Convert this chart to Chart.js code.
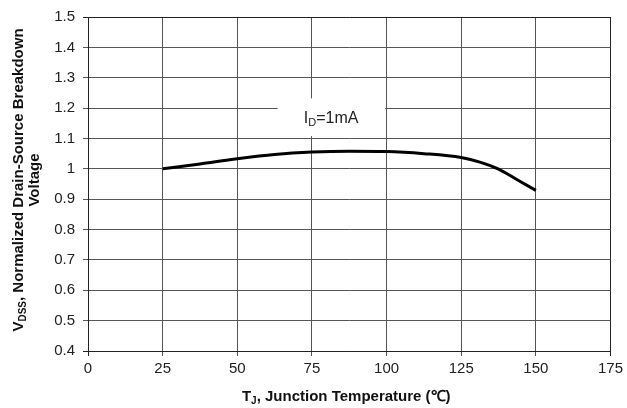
<!DOCTYPE html>
<html>
<head>
<meta charset="utf-8">
<script src="https://cdn.jsdelivr.net/npm/chart.js@4/dist/chart.umd.min.js"></script>
<style>
  html, body { margin: 0; padding: 0; background: #fff; }
  #wrap { width: 627px; height: 408px; }
</style>
</head>
<body>
<div id="wrap"><canvas id="chart" width="627" height="408"></canvas></div>
<script>
// values
const temps = [25, 37.5, 50, 62.5, 75, 87.5, 100, 112.5, 125, 131.25, 137.5, 143.75, 150];
const bvdss = [1.0, 1.016, 1.033, 1.047, 1.055, 1.058, 1.057, 1.050, 1.037, 1.022, 0.999, 0.964, 0.929];
const xTicks = [0, 25, 50, 75, 100, 125, 150, 175];
const yTicks = [0.4, 0.5, 0.6, 0.7, 0.8, 0.9, 1, 1.1, 1.2, 1.3, 1.4, 1.5];
const noteText = { main: 'I', sub: 'D', rest: '=1mA' };

const FONT = '"Liberation Sans", Arial, sans-serif';

// draws text pieces with subscripts, starting at x, baseline y
function drawParts(ctx, parts, x, y) {
    parts.forEach(p => {
        ctx.font = p.font;
        ctx.fillText(p.text, x, y + (p.dy || 0));
        x += ctx.measureText(p.text).width;
    });
}
function partsWidth(ctx, parts) {
    let w = 0;
    parts.forEach(p => { ctx.font = p.font; w += ctx.measureText(p.text).width; });
    return w;
}

const labelsPlugin = {
    id: 'labels',
    beforeDatasetsDraw(chart) {
        const { ctx, scales: { x, y } } = chart;
        // white box behind the note
        const l = x.getPixelForValue(63.5), r = x.getPixelForValue(99.5);
        const t = y.getPixelForValue(1.232), b = y.getPixelForValue(1.108);
        ctx.save();
        ctx.fillStyle = '#fff';
        ctx.fillRect(l, t, r - l, b - t);
        ctx.fillStyle = '#222';
        ctx.textBaseline = 'alphabetic';
        ctx.textAlign = 'left';
        drawParts(ctx, [
            { text: noteText.main, font: '16px ' + FONT },
            { text: noteText.sub, font: '11px ' + FONT, dy: 3 },
            { text: noteText.rest, font: '16px ' + FONT }
        ], x.getPixelForValue(72.3), y.getPixelForValue(1.152));
        ctx.restore();
    },
    afterDraw(chart) {
        const { ctx, chartArea } = chart;
        ctx.save();
        ctx.fillStyle = '#111';
        ctx.textAlign = 'left';
        ctx.textBaseline = 'alphabetic';

        // x title
        const xParts = [
            { text: 'T', font: 'bold 15px ' + FONT },
            { text: 'J', font: 'bold 10px ' + FONT, dy: 3 },
            { text: ', Junction Temperature (\u2103)', font: 'bold 15px ' + FONT }
        ];
        const xc = (chartArea.left + chartArea.right) / 2 - 3;
        drawParts(ctx, xParts, xc - partsWidth(ctx, xParts) / 2, 401);

        // y title, two lines, rotated
        const yc = 180;
        ctx.rotate(-Math.PI / 2);
        const l1 = [
            { text: 'V', font: 'bold 15px ' + FONT },
            { text: 'DSS', font: 'bold 10px ' + FONT, dy: 3 },
            { text: ', Normalized Drain-Source Breakdown', font: 'bold 15px ' + FONT }
        ];
        const l2 = [{ text: 'Voltage', font: 'bold 15px ' + FONT }];
        drawParts(ctx, l1, -yc - partsWidth(ctx, l1) / 2, 23);
        drawParts(ctx, l2, -yc - partsWidth(ctx, l2) / 2, 39);
        ctx.restore();
    }
};

const edge = (c) => (c.tick && (c.index === 0 || c.index === c.scale.ticks.length - 1)) ? '#222' : '#555';

new Chart(document.getElementById('chart'), {
    type: 'line',
    data: {
        datasets: [{
            data: temps.map((t, i) => ({ x: t, y: bvdss[i] })),
            borderColor: '#000',
            borderWidth: 3,
            pointRadius: 0,
            fill: false,
            cubicInterpolationMode: 'monotone'
        }]
    },
    options: {
        responsive: false,
        devicePixelRatio: 1,
        animation: false,
        layout: { padding: { top: 16, right: 13, left: 0, bottom: 0 } },
        plugins: { legend: { display: false }, tooltip: { enabled: false } },
        scales: {
            x: {
                type: 'linear',
                min: 0, max: 175,
                afterFit: (s) => { s.height = 57; },
                afterBuildTicks: (s) => { s.ticks = xTicks.map(v => ({ value: v })); },
                ticks: { color: '#222', font: { family: FONT, size: 15 }, padding: 4, maxRotation: 0 },
                grid: { color: edge, lineWidth: 1, tickLength: 5 },
                border: { color: '#222' }
            },
            y: {
                min: 0.4, max: 1.5,
                afterFit: (s) => { s.width = 88; },
                afterBuildTicks: (s) => { s.ticks = yTicks.map(v => ({ value: v })); },
                ticks: {
                    color: '#222', font: { family: FONT, size: 15 }, padding: 8,
                    callback: (v) => String(Number(v.toFixed(1)))
                },
                grid: { color: edge, lineWidth: 1, tickLength: 5 },
                border: { color: '#222' }
            }
        }
    },
    plugins: [labelsPlugin]
});
</script>
</body>
</html>
